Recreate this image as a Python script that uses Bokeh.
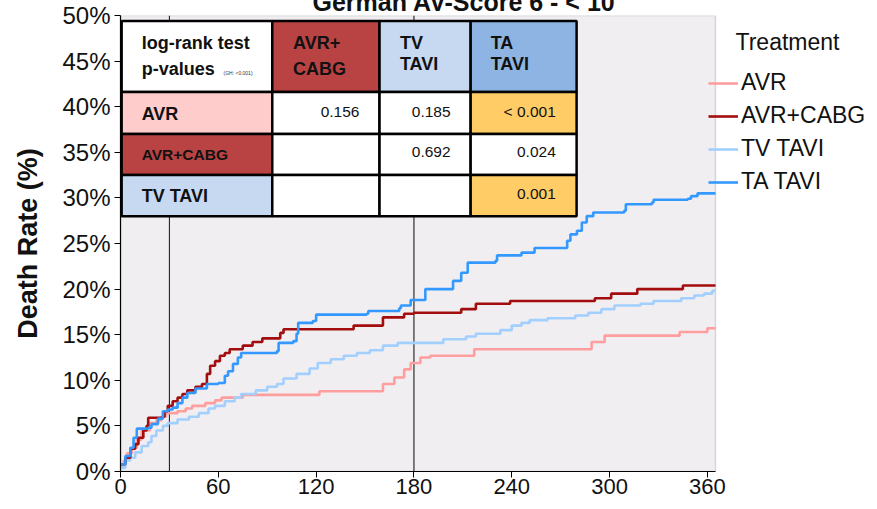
from bokeh.plotting import figure
from bokeh.models import (Range1d, FixedTicker, PrintfTickFormatter, Legend,
                          LegendItem, BoxAnnotation)
from bokeh.core.properties import value
from bokeh.embed import file_html
from bokeh.resources import INLINE

FONT = "Liberation Sans"

# ---------------- data (days, cumulative death rate %) ----------------
avr_days = [0, 2, 4, 7, 10, 13, 18, 22, 25, 28, 35, 40, 44, 52, 58, 62, 75, 122, 161, 168,
            174, 178, 184, 190, 217, 289, 297, 343, 360, 365]
avr_pct = [0.5, 1.2, 2.0, 2.6, 3.5, 4.5, 5.3, 5.6, 6.0, 6.4, 6.6, 6.9, 7.2, 7.5, 7.8, 8.1, 8.4,
           8.8, 9.6, 10.3, 11.2, 11.9, 12.5, 12.7, 13.4, 14.2, 14.9, 15.3, 15.7, 15.7]

cabg_days = [0, 3, 6, 9, 11, 14, 16, 17, 26, 27, 29, 32, 35, 38, 41, 46, 50, 53, 55, 58, 61,
             64, 67, 75, 81, 87, 98, 100, 143, 161, 174, 180, 209, 218, 239, 291, 301, 317,
             345, 365]
cabg_pct = [0.8, 1.5, 2.5, 3.0, 3.7, 4.5, 5.0, 5.9, 6.0, 6.6, 7.2, 7.7, 8.1, 8.5, 8.9, 9.3,
            9.6, 10.7, 11.6, 12.1, 12.7, 13.0, 13.4, 13.8, 14.2, 14.6, 15.2, 15.6, 16.0, 16.9,
            17.3, 17.4, 17.8, 18.4, 18.7, 19.0, 19.5, 20.0, 20.4, 20.4]

tv_days = [0, 3, 6, 9, 13, 17, 19, 22, 26, 29, 35, 42, 48, 54, 58, 64, 70, 74, 83, 90, 96,
           100, 108, 116, 121, 129, 137, 145, 153, 161, 170, 198, 212, 218, 233, 240, 246,
           251, 262, 279, 287, 295, 303, 319, 327, 344, 352, 358, 363, 365]
tv_pct = [0.4, 1.2, 1.5, 2.1, 2.8, 3.2, 3.9, 4.5, 5.0, 5.3, 5.7, 6.0, 6.4, 6.9, 7.2, 7.7, 8.1,
          8.5, 8.9, 9.3, 9.6, 10.2, 10.7, 11.3, 11.9, 12.3, 12.7, 13.0, 13.3, 13.8, 14.1,
          14.5, 14.8, 15.1, 15.5, 16.0, 16.3, 16.6, 16.8, 17.1, 17.4, 17.8, 18.2, 18.4,
          18.7, 19.0, 19.3, 19.5, 19.8, 19.8]

ta_days = [0, 3, 6, 8, 10, 17, 19, 23, 26, 29, 32, 35, 38, 41, 46, 53, 60, 64, 66, 69, 72,
           74, 96, 97, 106, 108, 109, 118, 120, 151, 152, 171, 172, 178, 187, 204, 209, 213,
           230, 231, 246, 254, 274, 276, 280, 283, 286, 290, 309, 310, 326, 327, 348, 350,
           354, 365]
ta_pct = [0.8, 1.7, 2.6, 3.7, 4.7, 4.8, 5.2, 5.8, 6.6, 6.8, 7.0, 7.5, 8.1, 8.6, 9.1, 9.6,
          9.7, 10.5, 11.0, 11.8, 12.5, 13.0, 13.2, 14.1, 14.3, 15.1, 16.3, 16.5, 17.2, 17.3,
          17.6, 17.9, 18.2, 18.8, 20.0, 20.9, 21.8, 22.9, 23.1, 23.7, 24.0, 24.5, 25.3,
          26.0, 26.4, 27.3, 28.0, 28.4, 28.6, 29.3, 29.5, 29.8, 29.9, 30.2, 30.5, 30.5]

series_names = ["AVR", "AVR+CABG", "TV TAVI", "TA TAVI"]
series_colors = ["#FF9E9E", "#A30D0D", "#A3CFFF", "#3399FF"]
legend_title = "Treatment"

x_ticks = [0, 60, 120, 180, 240, 300, 360]
y_ticks = [0, 5, 10, 15, 20, 25, 30, 35, 40, 45, 50]
ref_days = [30, 180]
x_max_day = 365
y_max_pct = 50

title_text = "German AV-Score 6 - < 10"

# log-rank table contents
tbl_corner = ["log-rank test", "p-values"]
tbl_corner_note = "(GH: <0.001)"
tbl_col_heads = [["AVR+", "CABG"], ["TV", "TAVI"], ["TA", "TAVI"]]
tbl_row_heads = ["AVR", "AVR+CABG", "TV TAVI"]
tbl_pvalues = [["0.156", "0.185", "< 0.001"],
               ["", "0.692", "0.024"],
               ["", "", "0.001"]]

# ---------------- layout constants (pixels) ----------------
W, H = 877, 521
LEFT, TOP, BOTTOM, RIGHT = 120, 30, 35, 2
PLOT_AREA_PX = 595           # width of the grey plotting area in pixels
frame_px = W - LEFT - RIGHT  # the frame also hosts the legend on the right
x_view_end = x_max_day * frame_px / PLOT_AREA_PX
px_per_day = frame_px / x_view_end

# ---------------- figure ----------------
# the canvas is shifted 15px up so that, as in the source image, the title is cut at the top
p = figure(width=W, height=H, output_backend="svg", toolbar_location=None,
           x_range=Range1d(0, x_view_end), y_range=Range1d(0, y_max_pct),
           min_border_left=LEFT, min_border_right=RIGHT, min_border_top=TOP,
           min_border_bottom=BOTTOM)
p.styles = {"margin-top": "-15px"}
p.background_fill_color = "white"
p.border_fill_color = "white"
p.outline_line_color = None
p.xgrid.visible = False
p.ygrid.visible = False

# grey plotting area with its border
p.add_layout(BoxAnnotation(left=0, right=x_max_day, bottom=0, top=y_max_pct,
                           fill_color="#F0EEF0", fill_alpha=1,
                           line_color="#8C8C8C", line_width=1.5, level="underlay"))

p.title.text = title_text
p.title.text_font = FONT
p.title.text_font_size = "25px"
p.title.text_font_style = "bold"
p.title.text_color = "#111111"
p.title.align = "left"
p.title.offset = 192
p.title.standoff = 0

# axes
p.xaxis.ticker = FixedTicker(ticks=x_ticks)
p.xaxis.bounds = (0, x_max_day)
p.yaxis.ticker = FixedTicker(ticks=y_ticks)
p.yaxis.formatter = PrintfTickFormatter(format="%d%%")
for ax in (p.xaxis[0], p.yaxis[0]):
    ax.axis_line_color = "black"
    ax.axis_line_width = 1.2
    ax.major_tick_line_color = "black"
    ax.major_tick_out = 6
    ax.major_tick_in = 0
    ax.minor_tick_line_color = None
    ax.major_label_text_font = FONT
    ax.major_label_text_color = "#111111"
p.xaxis.major_label_text_font_size = "22px"
p.xaxis.major_label_standoff = 1
p.yaxis.major_label_text_font_size = "24px"
p.yaxis.major_label_standoff = 4
p.yaxis.axis_label = "Death Rate (%)"
p.yaxis.axis_label_text_font = FONT
p.yaxis.axis_label_text_font_size = "27px"
p.yaxis.axis_label_text_font_style = "bold"
p.yaxis.axis_label_text_color = "#111111"
p.yaxis.axis_label_standoff = 16

# reference lines (30 days and 180 days)
p.segment(x0=ref_days, x1=ref_days, y0=[0, 0], y1=[y_max_pct, y_max_pct],
          line_color=["#111111", "#555555"], line_width=[1, 1.5])

# curves
data = [(avr_days, avr_pct), (cabg_days, cabg_pct), (tv_days, tv_pct), (ta_days, ta_pct)]
renderers = {}
for idx in [0, 2, 1, 3]:
    d, v = data[idx]
    renderers[idx] = p.step(d, v, mode="after", line_color=series_colors[idx],
                            line_width=2.6)

# ---------------- log-rank table (drawn in plot coordinates) ----------------
col_edges = [0.7, 93.1, 158.9, 214.8, 279.8]
row_edges = [49.4, 41.6, 37.0, 32.5, 28.0]
cell_fill = [["#FFFFFF", "#B94343", "#C6D9F1", "#8EB4E3"],
             ["#FFCCCC", "#FFFFFF", "#FFFFFF", "#FFCC66"],
             ["#B94343", "#FFFFFF", "#FFFFFF", "#FFFFFF"],
             ["#C6D9F1", "#FFFFFF", "#FFFFFF", "#FFCC66"]]
L, R, T, B, F = [], [], [], [], []
for r in range(4):
    for c in range(4):
        L.append(col_edges[c]); R.append(col_edges[c + 1])
        T.append(row_edges[r]); B.append(row_edges[r + 1])
        F.append(cell_fill[r][c])
p.quad(left=L, right=R, top=T, bottom=B, fill_color=F, line_color="black",
       line_width=2.5)

head_y = [46.97, 44.1]
head_y_tavi = [46.97, 44.67]
row_y = [39.22, 34.8, 30.23]
corner_x = 13.0
col_text_x = [105.8, 171.4, 227.1]
val_right_x = [146.6, 202.5, 267.0]

tx, ty, tt, ts = [], [], [], []
for i, s in enumerate(tbl_corner):
    tx.append(corner_x); ty.append(head_y[i]); tt.append(s); ts.append("18px")
for c, lines in enumerate(tbl_col_heads):
    ys = head_y if c == 0 else head_y_tavi
    for i, s in enumerate(lines):
        tx.append(col_text_x[c]); ty.append(ys[i]); tt.append(s); ts.append("18px")
for r, s in enumerate(tbl_row_heads):
    tx.append(corner_x); ty.append(row_y[r]); tt.append(s)
    ts.append("15.5px" if r == 1 else "18px")
p.text(x=tx, y=ty, text=tt, text_font=value(FONT), text_font_style="bold",
       text_font_size=ts, text_baseline="middle", text_align="left", text_color="#111111")

p.text(x=[63.2], y=[43.7], text=[tbl_corner_note], text_font=value(FONT),
       text_font_size="5px", text_baseline="middle", text_align="left",
       text_color="#333333")

vx, vy, vt = [], [], []
for r in range(3):
    for c in range(3):
        if tbl_pvalues[r][c]:
            vx.append(val_right_x[c]); vy.append(row_y[r] + 0.25); vt.append(tbl_pvalues[r][c])
p.text(x=vx, y=vy, text=vt, text_font=value(FONT), text_font_size="15.5px",
       text_baseline="middle", text_align="right", text_color="#111111")

# legend (placed just right of the grey plotting area), with its indented heading
p.text(x=[(735 - LEFT) / px_per_day], y=[47.1], text=[legend_title],
       text_font=value(FONT), text_font_size="23px", text_baseline="middle",
       text_align="left", text_color="#111111")
legend = Legend(items=[LegendItem(label=series_names[i], renderers=[renderers[i]])
                       for i in range(4)],
                location=(588, 276),
                label_text_font=FONT, label_text_font_size="23px",
                label_text_color="#111111",
                glyph_width=30, glyph_height=26, label_height=26, spacing=6,
                padding=0, margin=0, label_standoff=3,
                border_line_alpha=0, background_fill_alpha=0)
p.add_layout(legend)

open("out.html", "w").write(file_html(p, INLINE))
